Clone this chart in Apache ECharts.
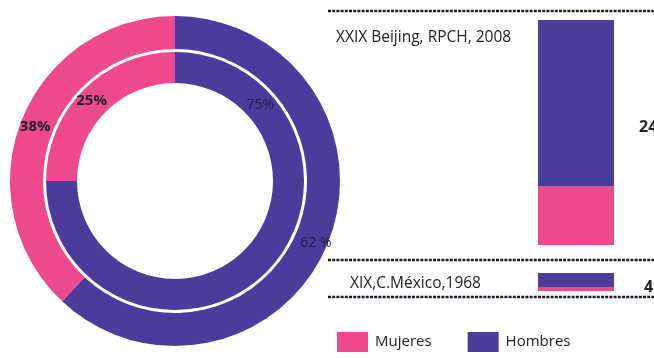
<!DOCTYPE html>
<html>
<head>
<meta charset="utf-8">
<script src="https://cdn.jsdelivr.net/npm/echarts@6/dist/echarts.min.js"></script>
<style>
  html, body { margin: 0; padding: 0; background: #ffffff; }
  #chart { width: 654px; height: 358px; }
</style>
</head>
<body>
<div id="chart"></div>
<script>
// Participación por sexo (%)
const seriesNames = ['Mujeres', 'Hombres'];
const outerRing = [38, 62];   // Mujeres, Hombres
const innerRing = [25, 75];   // Mujeres, Hombres

// Juegos comparados
const games = ['XXIX Beijing, RPCH, 2008', 'XIX,C.México,1968'];
const gamesMujeres = [26, 22];
const gamesHombres = [74, 78];
const gamesNotes = ['24', '4'];

const PINK = '#EC4A8D';
const PURPLE = '#4D3B9C';
const FONT = '"Open Sans", "Noto Sans", sans-serif';

const chart = echarts.init(document.getElementById('chart'), null, { renderer: 'canvas' });

function ringData(values, labelExtras) {
  // Hombres first so it runs clockwise from 12 o'clock
  return [
    { name: seriesNames[1], value: values[1], itemStyle: { color: PURPLE }, label: labelExtras[1] },
    { name: seriesNames[0], value: values[0], itemStyle: { color: PINK }, label: labelExtras[0] }
  ];
}

const boldLbl = { color: '#1e1e2a', fontWeight: 'bold', fontSize: 15, fontFamily: FONT };
const thinLbl = { color: '#231d45', fontWeight: 'normal', fontSize: 14, fontFamily: FONT };

const rowGrids = [
  { left: 538, width: 76, top: 20, height: 225 },
  { left: 538, width: 76, top: 273, height: 18 }
];

const dottedRule = (y) => ({
  type: 'line',
  shape: { x1: 328, y1: y, x2: 654, y2: y },
  style: { stroke: '#1c1c28', lineWidth: 2.5, lineDash: [3, 1.2] },
  silent: true
});

const option = {
  backgroundColor: '#ffffff',
  animation: false,
  legend: {
    data: seriesNames,
    left: 337,
    top: 332,
    padding: 0,
    itemWidth: 31,
    itemHeight: 20,
    itemGap: 36,
    icon: 'rect',
    textStyle: { fontSize: 15, color: '#222', fontFamily: FONT, padding: [3, 0, 0, 2] },
    selectedMode: false
  },
  grid: rowGrids,
  xAxis: rowGrids.map((g, i) => ({
    type: 'category', gridIndex: i, data: [games[i]], show: false
  })),
  yAxis: rowGrids.map((g, i) => ({
    type: 'value', gridIndex: i, min: 0, max: 100, show: false
  })),
  series: [
    {
      type: 'pie',
      name: 'anillo interior',
      center: [175, 181],
      radius: [98, 129],
      startAngle: 90,
      clockwise: true,
      silent: true,
      label: { show: true, position: 'inside', formatter: '{c}%' },
      labelLine: { show: false },
      data: ringData(innerRing, [
        Object.assign({ offset: [-1, 2] }, boldLbl),
        Object.assign({ offset: [3, -158] }, thinLbl)
      ])
    },
    {
      type: 'pie',
      name: 'anillo exterior',
      center: [175, 181],
      radius: [132, 165],
      startAngle: 90,
      clockwise: true,
      silent: true,
      label: { show: true, position: 'inside', formatter: '{c}%' },
      labelLine: { show: false },
      data: ringData(outerRing, [
        Object.assign({ offset: [1, 2] }, boldLbl),
        Object.assign({ offset: [0, 6], formatter: '{c} %' }, thinLbl)
      ])
    },
    // stacked bars, one grid per edition
    ...[0, 1].flatMap((i) => [
      {
        type: 'bar', name: 'Mujeres', xAxisIndex: i, yAxisIndex: i, stack: 'g' + i,
        barWidth: '100%', itemStyle: { color: PINK }, data: [gamesMujeres[i]]
      },
      {
        type: 'bar', name: 'Hombres', xAxisIndex: i, yAxisIndex: i, stack: 'g' + i,
        barWidth: '100%', itemStyle: { color: PURPLE }, data: [gamesHombres[i]]
      }
    ])
  ],
  graphic: [
    dottedRule(11),
    dottedRule(260),
    dottedRule(297),
    {
      type: 'text', left: 336, top: 30,
      style: { text: games[0], fontSize: 15.5, fill: '#222', fontFamily: FONT }
    },
    {
      type: 'text', left: 350, top: 276,
      style: { text: games[1], fontSize: 15.5, fill: '#222', fontFamily: FONT }
    },
    {
      type: 'text', left: 639, top: 119,
      style: { text: gamesNotes[0], fontSize: 16, fontWeight: 'bold', fill: '#222', fontFamily: FONT }
    },
    {
      type: 'text', left: 644, top: 279,
      style: { text: gamesNotes[1], fontSize: 16, fontWeight: 'bold', fill: '#222', fontFamily: FONT }
    }
  ]
};

chart.setOption(option);
</script>
</body>
</html>
